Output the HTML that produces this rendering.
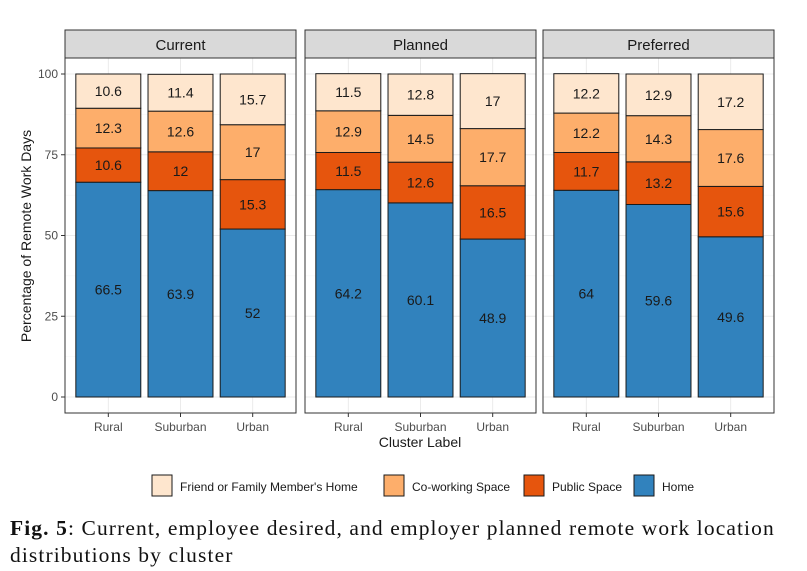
<!DOCTYPE html>
<html><head><meta charset="utf-8"><style>
body{margin:0;background:#fff;width:807px;height:571px;overflow:hidden}
svg text{font-family:"Liberation Sans",Arial,sans-serif}
.cap{position:absolute;left:10px;top:515px;font-family:"Liberation Serif",serif;font-size:21.5px;letter-spacing:1.1px;line-height:27px;color:#111;width:800px;white-space:nowrap}
</style></head><body>
<svg id="chart" width="807" height="571" style="position:absolute;left:0;top:0"></svg>
<div class="cap"><b>Fig. 5</b>: Current, employee desired, and employer planned remote work location<br>distributions by cluster</div>
<script>
const panels=["Current","Planned","Preferred"];
const categories=["Rural","Suburban","Urban"];
const seriesNames=["Home","Public Space","Co-working Space","Friend or Family Member's Home"];
const home=[[66.5,63.9,52],[64.2,60.1,48.9],[64,59.6,49.6]];
const publicSpace=[[10.6,12,15.3],[11.5,12.6,16.5],[11.7,13.2,15.6]];
const coworking=[[12.3,12.6,17],[12.9,14.5,17.7],[12.2,14.3,17.6]];
const friend=[[10.6,11.4,15.7],[11.5,12.8,17],[12.2,12.9,17.2]];
const yTicks=[0,25,50,75,100];
const colors=["#3182bd","#e6550d","#fdae6b","#fee6ce"];
const series=[home,publicSpace,coworking,friend];
const NS="http://www.w3.org/2000/svg";
const svg=document.getElementById('chart');
function mk(t,a,p){const e=document.createElementNS(NS,t);for(const k in a)e.setAttribute(k,a[k]);(p||svg).appendChild(e);return e;}
const panelX=[65,305,543],panelW=231,plotTop=58,plotBot=413;
const y=v=>397-v*3.23;
function x(p,i){return panelX[p]+panelW*(0.6+i)/3.2;}
const bw=panelW*0.9/3.2;
panels.forEach((pn,p)=>{
  const g=mk('g',{});
  
  
  const st=mk('rect',{x:panelX[p],y:30,width:panelW,height:28,fill:'#d9d9d9',stroke:'#333','stroke-width':1},g);
  
  
  const stt=mk('text',{x:panelX[p]+panelW/2,y:50,'text-anchor':'middle','font-size':15,fill:'#1a1a1a'},g);stt.textContent=pn;
  
  
  yTicks.forEach(t=>{mk('line',{x1:panelX[p],x2:panelX[p]+panelW,y1:y(t),y2:y(t),stroke:'#ebebeb','stroke-width':1},g);});
  [12.5,37.5,62.5,87.5].forEach(t=>{mk('line',{x1:panelX[p],x2:panelX[p]+panelW,y1:y(t),y2:y(t),stroke:'#f4f4f4','stroke-width':0.6},g);});
  categories.forEach((c,i)=>{mk('line',{x1:x(p,i),x2:x(p,i),y1:plotTop,y2:plotBot,stroke:'#ebebeb'},g);});
  categories.forEach((c,i)=>{
    let cum=0;
    series.forEach((s,k)=>{
      const v=s[p][i];
      const r=mk('rect',{x:x(p,i)-bw/2,y:y(cum+v),width:bw,height:v*3.23,fill:colors[k],stroke:'#1a1a1a','stroke-width':1},g);
      
      
      const t=mk('text',{x:x(p,i),y:y(cum+v/2)+5,'text-anchor':'middle','font-size':14,fill:'#1a1a1a'},g);t.textContent=v;
      
      
      cum+=v;
    });
    mk('line',{x1:x(p,i),x2:x(p,i),y1:plotBot,y2:plotBot+4,stroke:'#333'},g);
    const xl=mk('text',{x:x(p,i),y:431,'text-anchor':'middle','font-size':12,fill:'#4d4d4d'},g);xl.textContent=c;
    
    
  });
  mk('rect',{x:panelX[p],y:plotTop,width:panelW,height:plotBot-plotTop,fill:'none',stroke:'#333','stroke-width':1},g);
});
yTicks.forEach(t=>{
  mk('line',{x1:61,x2:65,y1:y(t),y2:y(t),stroke:'#333'});
  const tl=mk('text',{x:58,y:y(t)+4,'text-anchor':'end','font-size':12,fill:'#4d4d4d'});tl.textContent=t;
  
  
});
const yt=mk('text',{x:0,y:0,transform:'translate(31,236) rotate(-90)','text-anchor':'middle','font-size':14,fill:'#1a1a1a'});yt.textContent='Percentage of Remote Work Days';


const xt=mk('text',{x:420,y:447,'text-anchor':'middle','font-size':14,fill:'#1a1a1a'});xt.textContent='Cluster Label';


const legX=[152,384,524,634],legOrder=[3,2,1,0];
legOrder.forEach((k,j)=>{
  const lg=mk('g',{});
  
  
  mk('rect',{x:legX[j],y:475,width:20,height:21,fill:colors[k],stroke:'#1a1a1a'},lg);
  const t=mk('text',{x:legX[j]+28,y:491,'font-size':12,fill:'#1a1a1a'},lg);t.textContent=seriesNames[k];
});
</script>
</body></html>
